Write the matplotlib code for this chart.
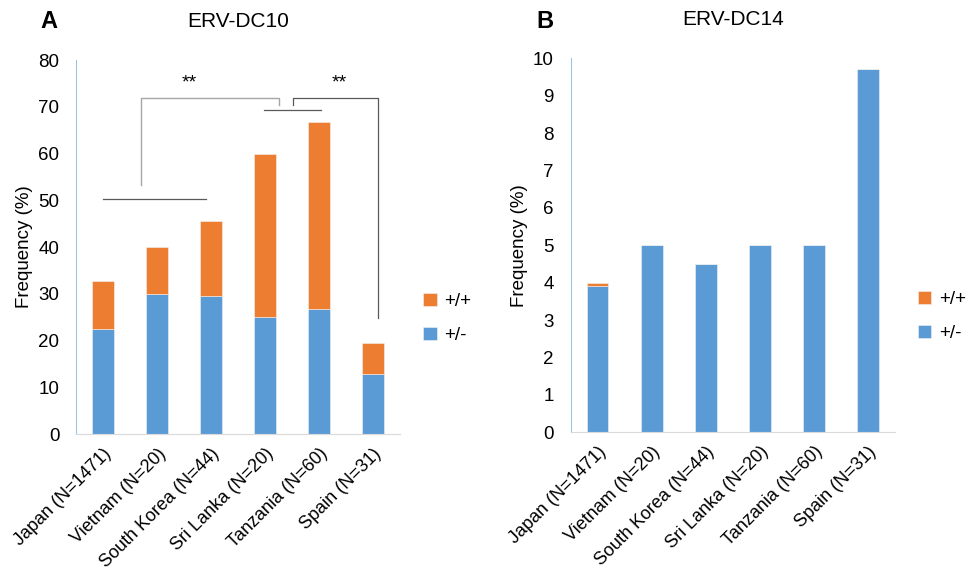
import matplotlib.pyplot as plt

plt.rcParams['font.family'] = ['Liberation Sans', 'DejaVu Sans']

countries = ['Japan (N=1471)', 'Vietnam (N=20)', 'South Korea (N=44)',
             'Sri Lanka (N=20)', 'Tanzania (N=60)', 'Spain (N=31)']

# ERV-DC10 frequencies (%)
dc10_het = [22.5, 30.0, 29.5, 25.0, 26.7, 12.9]
dc10_hom = [10.2, 10.0, 16.0, 35.0, 40.0, 6.5]

# ERV-DC14 frequencies (%)
dc14_het = [3.9, 5.0, 4.5, 5.0, 5.0, 9.7]
dc14_hom = [0.1, 0.0, 0.0, 0.0, 0.0, 0.0]

blue = '#5B9BD5'
orange = '#ED7D31'

fig = plt.figure(figsize=(9.71, 5.77), dpi=100)
ax1 = fig.add_axes([0.0783, 0.2478, 0.3337, 0.6482])
ax2 = fig.add_axes([0.5877, 0.2508, 0.3340, 0.6482])


def draw_panel(ax, het, hom, ymax, step, title, letter, letter_x):
    x = range(len(countries))
    ax.bar(x, het, width=0.4, color=blue, edgecolor='#F2F2F2', linewidth=0.4, label='+/-')
    ax.bar(x, hom, width=0.4, bottom=het, color=orange, edgecolor='#F2F2F2',
           linewidth=0.4, label='+/+')
    ax.set_xlim(-0.5, len(countries) - 0.5)
    ax.set_ylim(0, ymax)
    ax.set_yticks(range(0, ymax + 1, step))
    ax.set_xticks(list(x))
    ax.set_xticklabels(countries, rotation=45, ha='right', rotation_mode='anchor', fontsize=13)
    ax.tick_params(axis='y', length=0, labelsize=13.5, pad=12)
    ax.tick_params(axis='x', length=0, pad=8)
    for s in ['top', 'right']:
        ax.spines[s].set_visible(False)
    ax.spines['left'].set_color('#9DC3E6')
    ax.spines['bottom'].set_color('#D9D9D9')
    ax.set_ylabel('Frequency (%)', fontsize=13.5, labelpad=4)
    ax.set_title(title, fontsize=15, pad=24)
    fig.text(letter_x, 0.962, letter, fontsize=17, fontweight='bold', ha='center', va='center')
    handles, labels = ax.get_legend_handles_labels()
    ax.legend(handles[::-1], labels[::-1], loc='center left', bbox_to_anchor=(1.02, 0.31),
              frameon=False, fontsize=13.5, handlelength=0.7, handleheight=0.7,
              handletextpad=0.4, labelspacing=0.9)


draw_panel(ax1, dc10_het, dc10_hom, 80, 10, 'ERV-DC10', 'A', 0.05)
draw_panel(ax2, dc14_het, dc14_hom, 10, 1, 'ERV-DC14', 'B', 0.561)

# significance brackets on panel A
dark = '#595959'
light = '#A6A6A6'
ax1.plot([0.0, 1.9], [50.2, 50.2], color=dark, lw=0.9)
ax1.plot([0.7, 0.7, 3.25, 3.25], [53.3, 71.9, 71.9, 70.4], color=light, lw=1.0)
ax1.plot([2.98, 4.03], [69.3, 69.3], color=dark, lw=0.9)
ax1.plot([3.52, 3.52, 5.09, 5.09], [70.3, 71.9, 71.9, 24.9], color=dark, lw=0.9)
ax1.text(1.6, 73.2, '**', ha='center', va='bottom', fontsize=14)
ax1.text(4.38, 73.2, '**', ha='center', va='bottom', fontsize=14)

fig.savefig('out.png', dpi=100)
